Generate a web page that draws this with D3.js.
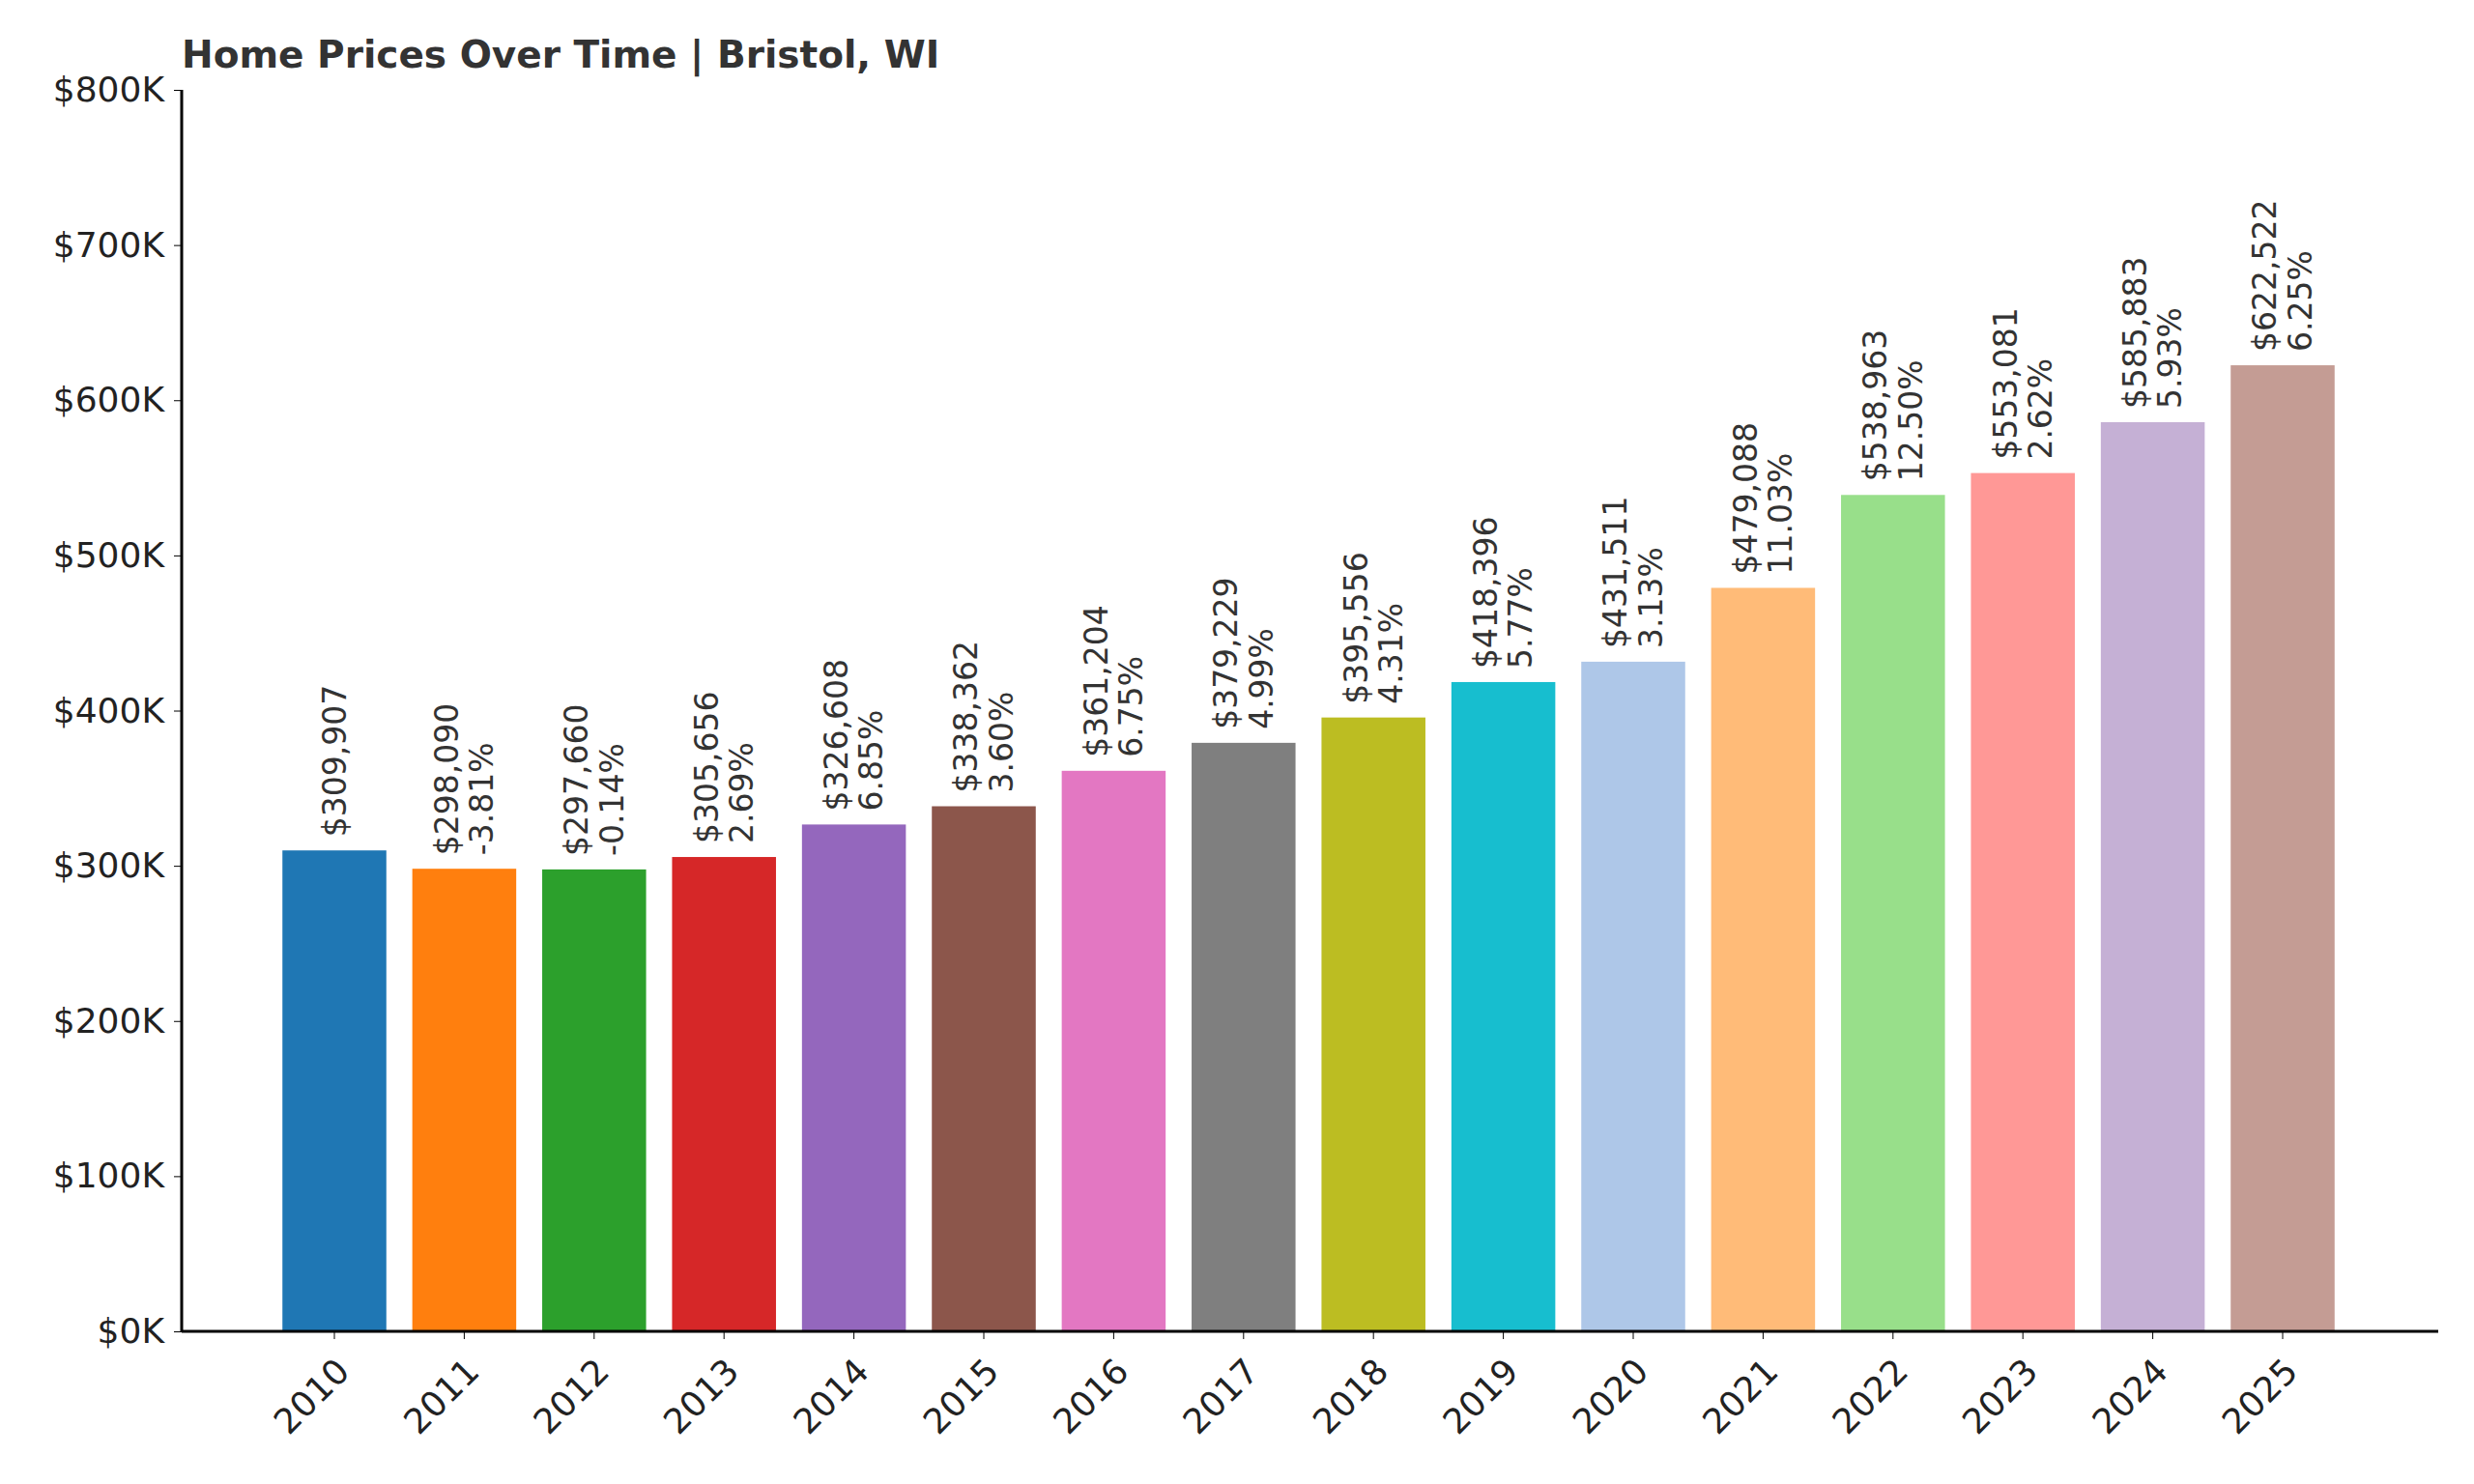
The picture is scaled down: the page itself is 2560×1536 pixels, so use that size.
<!DOCTYPE html>
<html><head><meta charset="utf-8">
<script src="https://cdn.jsdelivr.net/npm/d3@7"></script>
<style>body{margin:0;background:#fff}text{font-family:"DejaVu Sans",sans-serif}</style>
</head><body><svg id="c" width="2560" height="1536"></svg>
<script>
const years=["2010","2011","2012","2013","2014","2015","2016","2017","2018","2019","2020","2021","2022","2023","2024","2025"];
const prices=[309907,298090,297660,305656,326608,338362,361204,379229,395556,418396,431511,479088,538963,553081,585883,622522];
const changes=[null,"-3.81%","-0.14%","2.69%","6.85%","3.60%","6.75%","4.99%","4.31%","5.77%","3.13%","11.03%","12.50%","2.62%","5.93%","6.25%"];
const colors=["#1f77b4","#ff7f0e","#2ca02c","#d62728","#9467bd","#8c564b","#e377c2","#7f7f7f","#bcbd22","#17becf","#aec7e8","#ffbb78","#98df8a","#ff9896","#c5b0d5","#c49c94"];
const yTicks=[0,100000,200000,300000,400000,500000,600000,700000,800000];
const svg=d3.select("#c");
const L=188,R=2523,T=93,B=1378;
const step=(2362-346)/15;
const x=d3.scaleBand().domain(years).range([346-step/2,2362+step/2]).paddingInner(0.2).paddingOuter(0.1);
const y=d3.scaleLinear().domain([0,800000]).range([B,T]);
svg.append("text").attr("x",L).attr("y",70).attr("font-size",39).attr("font-weight","bold").attr("fill","#333").text("Home Prices Over Time | Bristol, WI");
svg.selectAll("rect").data(years).join("rect").attr("x",d=>x(d)).attr("width",x.bandwidth())
 .attr("y",(d,i)=>y(prices[i])).attr("height",(d,i)=>B-y(prices[i])).attr("fill",(d,i)=>colors[i]);
const ya=svg.append("g").attr("transform",`translate(${L},0)`).call(d3.axisLeft(y).tickValues(yTicks).tickFormat(d=>"$"+(d/1000)+"K").tickSize(8).tickPadding(10));
ya.selectAll("text").attr("font-size",36).attr("fill","#222");
ya.select(".domain").attr("stroke-width",3).attr("d",`M0,${T}V${B}`);
const xa=svg.append("g").attr("transform",`translate(0,${B})`).call(d3.axisBottom(x).tickSize(8).tickSizeOuter(0));
xa.select(".domain").attr("stroke-width",3).attr("d",`M${L},0H${R}`);
xa.selectAll("text").attr("font-size",36).attr("fill","#222").attr("text-anchor","end")
 .attr("transform","translate(-8,18) rotate(-45)").attr("dy","0.7em");
const lab=svg.append("g");
years.forEach((yr,i)=>{
 const cx=x(yr)+x.bandwidth()/2, top=y(prices[i])-14;
 const t=lab.append("text").attr("transform",`translate(${cx},${top}) rotate(-90)`).attr("font-size",33).attr("fill","#333");
 const p="$"+d3.format(",")(prices[i]);
 if(changes[i]===null){t.append("tspan").attr("x",0).attr("dy","0.35em").text(p);}
 else{t.append("tspan").attr("x",0).attr("dy","-0.2em").text(p);t.append("tspan").attr("x",0).attr("dy","1.1em").text(changes[i]);}
});
</script></body></html>
